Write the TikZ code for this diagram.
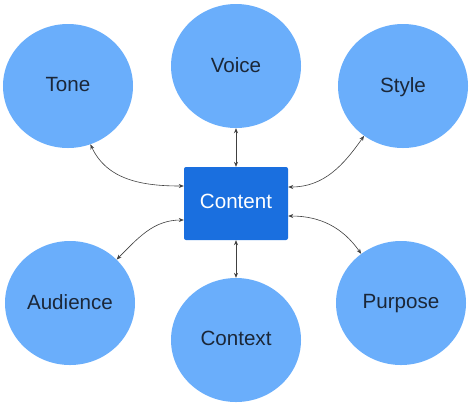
\documentclass[tikz,border=0pt]{standalone}
\usepackage{fontspec}
\setmainfont{Liberation Sans}
\usetikzlibrary{shapes.geometric,arrows.meta}
\definecolor{bubble}{HTML}{6AAEFB}
\definecolor{boxblue}{HTML}{1A6FDF}
\definecolor{labeltext}{HTML}{1B2738}
\definecolor{linkgray}{HTML}{404040}
\begin{document}
\begin{tikzpicture}[x=1bp,y=-1bp,
  bubblenode/.style={ellipse, fill=bubble, draw=none, minimum width=130bp, minimum height=124bp, inner sep=0pt, text=labeltext, text depth=2.5bp, font=\fontsize{20.6bp}{24bp}\selectfont},
  centerbox/.style={rectangle, rounded corners=2bp, fill=boxblue, minimum width=104bp, minimum height=73bp, text=white, text depth=4bp, font=\fontsize{20.6bp}{24bp}\selectfont},
  link/.style={draw=linkgray, line width=0.6bp, {Stealth[length=5bp,width=4bp]}-{Stealth[length=5bp,width=4bp]}}
]
\useasboundingbox (0,0) rectangle (474,406);
\node[bubblenode] (tone) at (68,86) {Tone};
\node[bubblenode] (voice) at (236,66) {Voice};
\node[bubblenode] (style) at (403,86) {Style};
\node[bubblenode] (audience) at (70,303) {Audience};
\node[bubblenode] (context) at (236,340) {Context};
\node[bubblenode] (purpose) at (401,303) {Purpose};
\node[centerbox] (content) at (236,203.5) {Content};
\draw[link] (voice.south) -- (content.north);
\draw[link] (content.south) -- (context.north);
\draw[link] (tone.-69) to[out=-65,in=180] ([yshift=17.5bp]content.west);
\draw[link] ([yshift=16.5bp]content.east) to[out=0,in=-125] (style.-128);
\draw[link] ([yshift=-16.5bp]content.west) to[out=180,in=45] (audience.43);
\draw[link] ([yshift=-12.5bp]content.east) to[out=0,in=125] (purpose.129);
\end{tikzpicture}
\end{document}
